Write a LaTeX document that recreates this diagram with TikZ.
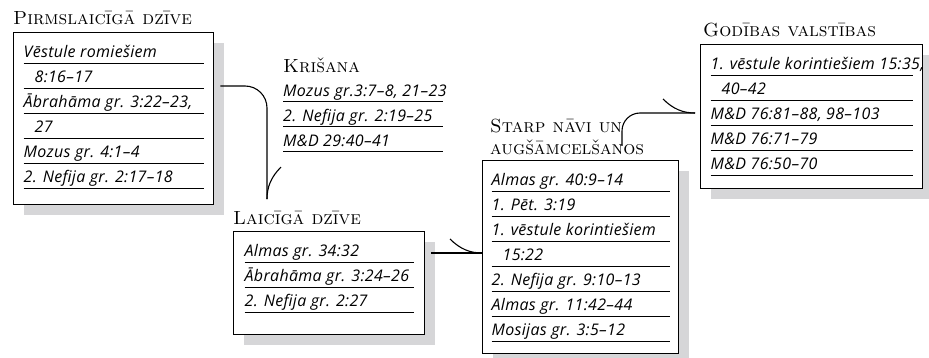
\documentclass[tikz,border=0pt]{standalone}
\usepackage{fontspec}
\usetikzlibrary{positioning,shadows,decorations.markings}
\newfontfamily\handfont[LetterSpace=2]{Open Sans}
\definecolor{shadowgray}{RGB}{214,214,216}
\setlength{\arrayrulewidth}{0.8pt}
\renewcommand{\arraystretch}{0}
\newcommand{\rowstrut}{\rule[-5pt]{0pt}{24.2pt}}
\newcommand{\ent}[1]{\rowstrut\mbox{#1}\\\hline}
\newcommand{\ind}{\hspace*{11pt}}
\newcommand{\lined}[3]{\begin{tabular}{@{}p{#1}@{}}#3\rule{0pt}{#2}\end{tabular}}
\hbadness=10000 \hfuzz=100pt
\begin{document}
\begin{tikzpicture}[x=1pt, y=-1pt,
  title/.style = {font=\fontsize{19}{22}\selectfont\scshape, inner sep=0pt, align=left},
  entries/.style = {font=\handfont\itshape\fontsize{16}{18}\selectfont, anchor=north west},
  listbox/.style = {entries, draw, line width=1.3pt, fill=white, inner xsep=10pt, inner ysep=6pt,
    general shadow={fill=shadowgray, shadow xshift=10pt, shadow yshift=-10pt}},
  barbend/.style = {postaction={decorate}, decoration={markings, mark=at position 1 with
    {\draw[line width=1.1pt] (0pt,0pt) .. controls (-12pt,0pt) and (-22pt,4pt) .. (-32pt,14pt);}}},
  conn/.style = {draw, line width=1.1pt, barbend}]
\useasboundingbox (0,0) rectangle (929,358);

% lists
\node[listbox] (pirms) at (13,32) {\lined{180pt}{10pt}{%
  \ent{Vēstule romiešiem}\ent{\ind 8:16–17}\ent{Ābrahāma gr. 3:22–23,}%
  \ent{\ind 27}\ent{Mozus gr. 4:1–4}\ent{2. Nefija gr. 2:17–18}}};
\node[entries, inner sep=0pt] (kris) at (283,77) {\lined{160pt}{0pt}{%
  \ent{Mozus gr.3:7–8, 21–23}\ent{2. Nefija gr. 2:19–25}\ent{M\&D 29:40–41}}};
\node[listbox, inner xsep=11pt] (laic) at (233,231) {\lined{169pt}{16pt}{%
  \ent{Almas gr. 34:32}\ent{Ābrahāma gr. 3:24–26}\ent{2. Nefija gr. 2:27}}};
\node[listbox, inner xsep=9pt] (starp) at (482,160) {\lined{178pt}{6pt}{%
  \ent{Almas gr. 40:9–14}\ent{1. Pēt. 3:19}\ent{1. vēstule korintiešiem}\ent{\ind 15:22}%
  \ent{2. Nefija gr. 9:10–13}\ent{Almas gr. 11:42–44}\ent{Mosijas gr. 3:5–12}}};
\node[listbox] (godib) at (700,44) {\lined{202pt}{7pt}{%
  \ent{1. vēstule korintiešiem 15:35,}\ent{\ind 40–42}\ent{M\&D 76:81–88, 98–103}%
  \ent{M\&D 76:71–79}\ent{M\&D 76:50–70}}};

% titles
\node[title] (pirmsT) [above right=7pt and 0pt of pirms.north west] {Pirmslaicīgā dzīve};
\node[title] (krisT) [above right=4pt and 0pt of kris.north west] {Krišana};
\node[title] (laicT) [above right=6pt and 0pt of laic.north west] {Laicīgā dzīve};
\node[title] (starpT) [above right=5pt and 8pt of starp.north west] {Starp nāvi un\\augšāmcelšanos};
\node[title] (godibT) [above right=7pt and 3pt of godib.north west] {Godības valstības};

% connectors
\coordinate (pOut) at ([shift={(6,54)}]pirms.north east);
\coordinate (kIn) at ([shift={(34,-12)}]laicT.north west);
\coordinate (lOut) at ([shift={(6,22)}]laic.north east);
\coordinate (sOut) at ([shift={(140,-14)}]starp.north west);
\coordinate (gIn) at ([shift={(-5,69)}]godib.north west);
\draw[conn, rounded corners=22pt] (pOut) -| (kIn);
\draw[conn] (lOut) -- (lOut -| starp.west);
\draw[conn, rounded corners=18pt] (sOut) |- (gIn);
\end{tikzpicture}
\end{document}
